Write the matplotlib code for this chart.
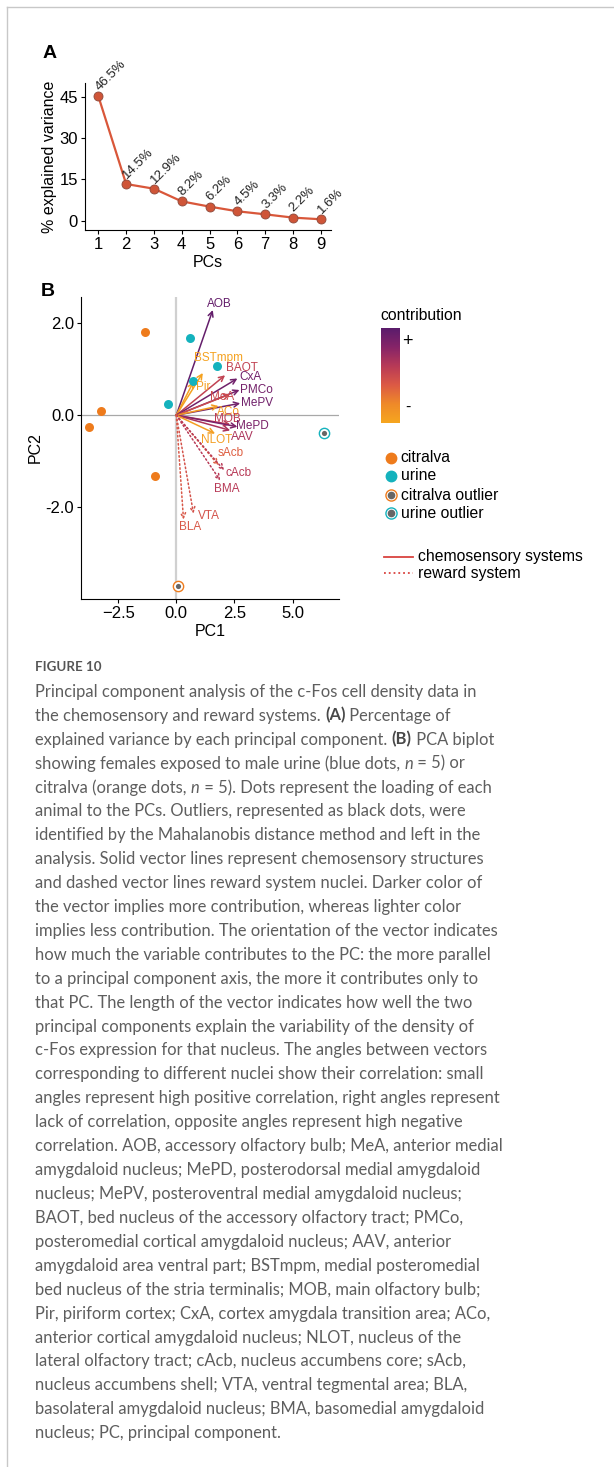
import numpy as np
import matplotlib
matplotlib.use("Agg")
import matplotlib.pyplot as plt
from matplotlib.colors import LinearSegmentedColormap
from matplotlib.lines import Line2D

W, H = 614, 1467

# ---- panel A data
pcs = [1, 2, 3, 4, 5, 6, 7, 8, 9]
var_pct = [45.2, 13.3, 11.6, 7.0, 5.1, 3.4, 2.3, 1.1, 0.5]
var_lbl = ["46.5%", "14.5%", "12.9%", "8.2%", "6.2%", "4.5%", "3.3%", "2.2%", "1.6%"]

# ---- panel B data: individuals
citralva_x = [-1.36, -3.22, -3.76, -0.90]
citralva_y = [1.82, 0.09, -0.26, -1.32]
urine_x = [0.57, 1.77, 0.72, -0.36]
urine_y = [1.69, 1.07, 0.74, 0.25]
cit_out_x, cit_out_y = [0.07], [-3.71]
uri_out_x, uri_out_y = [6.35], [-0.38]

# ---- panel B data: variables
var_names = ["AOB", "BSTmpm", "Pir", "BAOT", "CxA", "PMCo", "MeA", "MePV", "ACo",
             "MOB", "MePD", "AAV", "NLOT", "sAcb", "cAcb", "BMA", "VTA", "BLA"]
load_x = [1.57, 1.14, 0.74, 2.10, 2.63, 2.72, 2.32, 2.75, 1.82,
          2.32, 2.63, 2.32, 1.67, 1.82, 2.06, 1.89, 0.74, 0.31]
load_y = [2.29, 0.92, 0.73, 0.87, 0.80, 0.55, 0.46, 0.26, 0.20,
          -0.20, -0.25, -0.33, -0.40, -1.09, -1.20, -1.42, -2.14, -2.27]
contrib = [0.95, 0.03, 0.05, 0.55, 0.90, 0.88, 0.50, 0.90, 0.08,
           0.58, 0.85, 0.65, 0.06, 0.38, 0.60, 0.60, 0.45, 0.42]
reward = ["sAcb", "cAcb", "BMA", "VTA", "BLA"]

# label offsets (pixels) from arrow tips
lbl_off = {"AOB": (7, 6), "BSTmpm": (16, 15), "Pir": (10, -5), "BAOT": (17, 7),
           "CxA": (13, 1), "PMCo": (17, 0), "MeA": (-8, -3), "MePV": (17, 0),
           "ACo": (10, -6), "MOB": (-3, 5), "MePD": (15, 1), "AAV": (12, -7),
           "NLOT": (2, -6), "sAcb": (12, 12), "cAcb": (14, -3), "BMA": (7, -9),
           "VTA": (15, -2), "BLA": (7, -7)}

cmap = LinearSegmentedColormap.from_list(
    "contrib", ["#f6a61f", "#ef8a29", "#dc5a45", "#b83a57", "#862468", "#5a1c6c"])

col_cit = "#ee7b1c"
col_uri = "#14b2bd"
PF = "Liberation Sans"


def px(x, y):
    return x / W, 1 - y / H


fig = plt.figure(figsize=(W / 100, H / 100), dpi=100)

# frame lines of the page card
fig.add_artist(Line2D([7 / W, 1], [1 - 7 / H, 1 - 7 / H], color="#c8c8c8", lw=1))
fig.add_artist(Line2D([7 / W, 7 / W], [1 - 7 / H, 0], color="#c8c8c8", lw=1))

# ================= panel A
axA = fig.add_axes([85 / W, 1 - 230 / H, (331 - 85) / W, (230 - 83) / H])
axA.plot(pcs, var_pct, color="#d9573a", lw=1.6, zorder=2)
axA.plot(pcs, var_pct, "o", ms=6.5, mfc="#cf5538", mec="#8c4a3c", mew=0.6, zorder=3)
for xx, yy, t in zip(pcs, var_pct, var_lbl):
    axA.annotate(t, (xx, yy), xytext=(3, 3), textcoords="offset pixels",
                 rotation=45, rotation_mode="anchor", ha="left", va="bottom",
                 fontsize=9.5, family=PF, color="#222222")
axA.set_xlim(0.52, 9.37)
axA.set_ylim(-3.4, 50)
axA.set_xticks(pcs)
axA.set_yticks([0, 15, 30, 45])
axA.spines[["top", "right"]].set_visible(False)
axA.tick_params(labelsize=12, length=3, width=0.8, pad=2)
for lab in axA.get_xticklabels() + axA.get_yticklabels():
    lab.set_family(PF)
axA.set_xlabel("PCs", fontsize=11.5, family=PF, labelpad=2)
axA.set_ylabel("% explained variance", fontsize=11.5, family=PF, labelpad=2)
fig.text(*px(50, 53), "A", fontsize=14, fontweight="bold", family=PF,
         ha="center", va="center")

# ================= panel B
axB = fig.add_axes([81 / W, 1 - 599 / H, (339 - 81) / W, (599 - 296.7) / H])
axB.axvline(0, color="#d0d0d0", lw=1.6, zorder=1)
axB.axhline(0, color="#a8a8a8", lw=0.9, zorder=1)
axB.scatter(citralva_x, citralva_y, s=42, color=col_cit, zorder=3, lw=0)
axB.scatter(urine_x, urine_y, s=42, color=col_uri, zorder=3, lw=0)
for ox, oy, c in [(cit_out_x, cit_out_y, col_cit), (uri_out_x, uri_out_y, col_uri)]:
    axB.scatter(ox, oy, s=55, facecolor="white", edgecolor=c, lw=1.0, zorder=3)
    axB.scatter(ox, oy, s=14, color="#666666", lw=0, zorder=4)

for nm, lx, ly, cv in zip(var_names, load_x, load_y, contrib):
    c = cmap(cv)
    ls = ":" if nm in reward else "-"
    axB.annotate("", xy=(lx, ly), xytext=(0, 0),
                 arrowprops=dict(arrowstyle="->", color=c, lw=1.1, linestyle=ls,
                                 shrinkA=0, shrinkB=0, mutation_scale=9),
                 zorder=2)
    dx, dy = lbl_off[nm]
    axB.annotate(nm, (lx, ly), xytext=(dx, dy), textcoords="offset pixels",
                 ha="center", va="center", fontsize=8.5, family=PF, color=c, zorder=5)

axB.set_xlim(-4.1, 7.0)
axB.set_ylim(-4.0, 2.58)
axB.set_xticks([-2.5, 0, 2.5, 5.0])
axB.set_xticklabels(["\u22122.5", "0.0", "2.5", "5.0"])
axB.set_yticks([-2, 0, 2])
axB.set_yticklabels(["-2.0", "0.0", "2.0"])
axB.spines[["top", "right"]].set_visible(False)
axB.tick_params(labelsize=12, length=3, width=0.8, pad=2)
for lab in axB.get_xticklabels() + axB.get_yticklabels():
    lab.set_family(PF)
axB.set_xlabel("PC1", fontsize=11.5, family=PF, labelpad=2)
axB.set_ylabel("PC2", fontsize=11.5, family=PF, labelpad=2)
fig.text(*px(48, 292), "B", fontsize=14, fontweight="bold", family=PF,
         ha="center", va="center")

# colorbar legend
cax = fig.add_axes([381 / W, 1 - 422.7 / H, (399.3 - 381) / W, (422.7 - 328.3) / H])
grad = np.linspace(1, 0, 256).reshape(-1, 1)
cax.imshow(grad, aspect="auto", cmap=cmap, extent=[0, 1, 0, 1])
cax.set_axis_off()
fig.text(*px(380, 315), "contribution", fontsize=11.3, family=PF, ha="left", va="center")
fig.text(*px(402, 341), "+", fontsize=13, family=PF, ha="left", va="center")
fig.text(*px(405, 407), "-", fontsize=11.3, family=PF, ha="left", va="center")

# point legend
legend_items = ["citralva", "urine", "citralva outlier", "urine outlier"]
leg_y = [457.7, 476, 495.3, 513.3]
for i, (t, yy) in enumerate(zip(legend_items, leg_y)):
    c = col_cit if i % 2 == 0 else col_uri
    x0, y0 = px(390.7, yy)
    if i < 2:
        fig.add_artist(Line2D([x0], [y0], marker="o", ms=7.5, mfc=c, mec=c, lw=0))
    else:
        fig.add_artist(Line2D([x0], [y0], marker="o", ms=8, mfc="white", mec=c, mew=1.0, lw=0))
        fig.add_artist(Line2D([x0], [y0], marker="o", ms=4.5, mfc="#666666", mec="#666666", lw=0))
    fig.text(*px(400.7, yy), t, fontsize=11.3, family=PF, ha="left", va="center")

# line legend
for t, yy, ls in [("chemosensory systems", 556.7, "-"), ("reward system", 573.3, ":")]:
    x0, y0 = px(384, yy)
    x1, _ = px(413.3, yy)
    fig.add_artist(Line2D([x0, x1], [y0, y0], color="#d9433f", lw=1.3, ls=ls))
    fig.text(*px(418.3, yy), t, fontsize=11.3, family=PF, ha="left", va="center")

# ================= caption
CF = "Lato"
CC = "#5e5e5e"
fig.text(*px(35, 667), "FIGURE 10", fontsize=9.6, family=CF, fontweight="bold",
         color="#555555", ha="left", va="center")

caption = [
    [("Principal component analysis of the c-Fos cell density data in", "n")],
    [("the chemosensory and reward systems. ", "n"), ("(A)", "b"), (" Percentage of", "n")],
    [("explained variance by each principal component. ", "n"), ("(B)", "b"), (" PCA biplot", "n")],
    [("showing females exposed to male urine (blue dots, ", "n"), ("n", "i"), (" = 5) or", "n")],
    [("citralva (orange dots, ", "n"), ("n", "i"), (" = 5). Dots represent the loading of each", "n")],
    [("animal to the PCs. Outliers, represented as black dots, were", "n")],
    [("identified by the Mahalanobis distance method and left in the", "n")],
    [("analysis. Solid vector lines represent chemosensory structures", "n")],
    [("and dashed vector lines reward system nuclei. Darker color of", "n")],
    [("the vector implies more contribution, whereas lighter color", "n")],
    [("implies less contribution. The orientation of the vector indicates", "n")],
    [("how much the variable contributes to the PC: the more parallel", "n")],
    [("to a principal component axis, the more it contributes only to", "n")],
    [("that PC. The length of the vector indicates how well the two", "n")],
    [("principal components explain the variability of the density of", "n")],
    [("c-Fos expression for that nucleus. The angles between vectors", "n")],
    [("corresponding to different nuclei show their correlation: small", "n")],
    [("angles represent high positive correlation, right angles represent", "n")],
    [("lack of correlation, opposite angles represent high negative", "n")],
    [("correlation. AOB, accessory olfactory bulb; MeA, anterior medial", "n")],
    [("amygdaloid nucleus; MePD, posterodorsal medial amygdaloid", "n")],
    [("nucleus; MePV, posteroventral medial amygdaloid nucleus;", "n")],
    [("BAOT, bed nucleus of the accessory olfactory tract; PMCo,", "n")],
    [("posteromedial cortical amygdaloid nucleus; AAV, anterior", "n")],
    [("amygdaloid area ventral part; BSTmpm, medial posteromedial", "n")],
    [("bed nucleus of the stria terminalis; MOB, main olfactory bulb;", "n")],
    [("Pir, piriform cortex; CxA, cortex amygdala transition area; ACo,", "n")],
    [("anterior cortical amygdaloid nucleus; NLOT, nucleus of the", "n")],
    [("lateral olfactory tract; cAcb, nucleus accumbens core; sAcb,", "n")],
    [("nucleus accumbens shell; VTA, ventral tegmental area; BLA,", "n")],
    [("basolateral amygdaloid nucleus; BMA, basomedial amygdaloid", "n")],
    [("nucleus; PC, principal component.", "n")],
]

y0_cap, dy_cap = 691.7, 23.92
for i, line in enumerate(caption):
    prev = None
    for seg, st in line:
        kw = dict(fontsize=11.9, family=CF, color=CC, va="center", ha="left")
        if st == "b":
            kw.update(fontweight="bold", color="#484848")
        if st == "i":
            kw.update(style="italic")
        if prev is None:
            prev = fig.text(*px(35, y0_cap + i * dy_cap), seg, **kw)
        else:
            kw["va"] = "bottom"
            prev = plt.annotate(seg, xy=(1, 0), xycoords=prev, **kw)

fig.savefig("out.png", dpi=100)
